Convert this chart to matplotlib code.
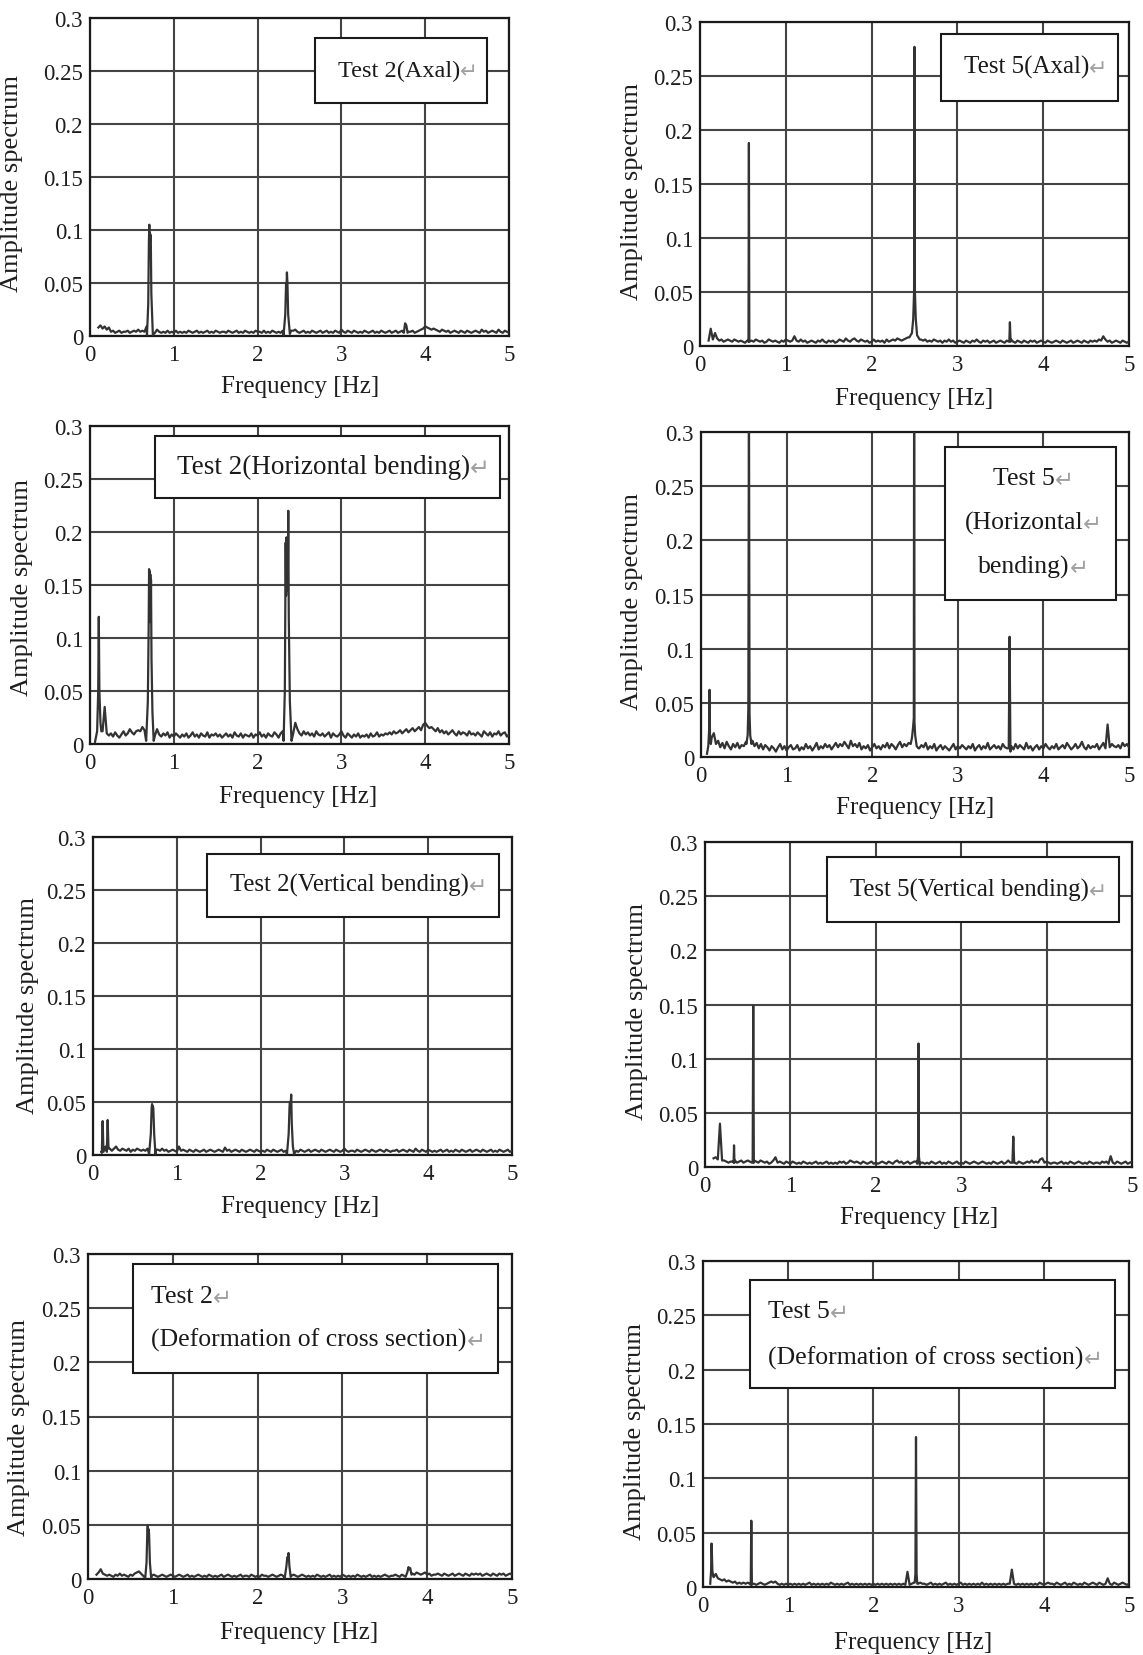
import numpy as np
import matplotlib
matplotlib.use("Agg")
import matplotlib.pyplot as plt
from matplotlib.patches import Rectangle
from matplotlib.text import Annotation

plt.rcParams['font.family'] = ['Liberation Serif', 'DejaVu Sans']

W, H = 1143, 1656

# Frequency bins of the noise floor: 0.1 Hz upward in 0.025 Hz steps (20 bins per row)
freq_start = 0.1
freq_step = 0.025

x_ticks = [0, 1, 2, 3, 4, 5]
y_ticks = [0, 0.05, 0.1, 0.15, 0.2, 0.25, 0.3]
y_tick_labels = ["0", "0.05", "0.1", "0.15", "0.2", "0.25", "0.3"]

# ---------------------------------------------------------------- Test 2, axal
t2_axal_floor = [
    8, 10, 7, 9, 6, 8, 4, 5, 3, 4, 5, 3, 4, 4, 5, 3, 4, 5, 4, 6,
    4, 5, 4, 9, 9, 9, 9, 3, 6, 4, 3, 4, 3, 5, 3, 4, 3, 5, 3, 4,
    3, 4, 3, 5, 4, 3, 4, 5, 3, 4, 3, 4, 5, 3, 4, 3, 5, 4, 3, 4,
    4, 3, 5, 4, 3, 4, 5, 3, 4, 3, 5, 4, 3, 4, 3, 5, 4, 4, 3, 5,
    3, 4, 3, 5, 4, 3, 4, 3, 5, 4, 5, 5, 5, 5, 6, 4, 3, 4, 5, 3,
    4, 3, 5, 4, 3, 4, 5, 3, 4, 5, 3, 4, 3, 5, 4, 3, 6, 4, 3, 5,
    4, 3, 5, 4, 3, 4, 3, 5, 4, 3, 4, 5, 3, 4, 3, 5, 4, 3, 4, 5,
    3, 4, 5, 3, 4, 5, 3, 5, 4, 4, 5, 3, 4, 5, 6, 7, 9, 8, 7, 6,
    7, 6, 5, 4, 6, 5, 4, 5, 3, 4, 5, 4, 3, 5, 4, 3, 5, 4, 3, 4,
    5, 4, 3, 6, 4, 5, 3, 4, 5, 4, 3, 6, 4, 3, 5, 4, 3, 4, 5, 4,
]
t2_axal_peaks = [
    [(0.68, 0.001), (0.695, 0.03), (0.703, 0.09), (0.708, 0.105), (0.712, 0.08),
     (0.716, 0.097), (0.72, 0.09), (0.725, 0.095), (0.732, 0.04), (0.75, 0.001)],
    [(2.31, 0.001), (2.33, 0.02), (2.34, 0.05), (2.345, 0.045), (2.35, 0.06),
     (2.356, 0.05), (2.365, 0.02), (2.385, 0.002)],
    [(3.745, 0.003), (3.76, 0.012), (3.775, 0.01), (3.79, 0.003)],
]

# ---------------------------------------------------------------- Test 5, axal
t5_axal_floor = [
    5, 16, 6, 12, 7, 5, 6, 4, 5, 6, 5, 4, 6, 5, 4, 5, 4, 3, 5, 4,
    5, 4, 6, 5, 4, 5, 3, 4, 6, 5, 4, 5, 4, 3, 5, 4, 6, 5, 4, 5,
    9, 5, 4, 6, 4, 5, 3, 4, 5, 4, 3, 5, 4, 6, 4, 3, 5, 4, 5, 3,
    4, 6, 5, 4, 7, 5, 4, 6, 7, 5, 4, 6, 5, 4, 5, 3, 4, 6, 4, 5,
    4, 5, 3, 6, 4, 5, 6, 5, 7, 6, 5, 6, 7, 8, 9, 9, 9, 9, 9, 6,
    5, 6, 4, 5, 4, 6, 5, 4, 5, 3, 5, 4, 6, 4, 5, 3, 4, 5, 4, 3,
    5, 4, 3, 5, 4, 6, 4, 3, 5, 4, 5, 3, 4, 5, 3, 4, 5, 4, 3, 5,
    4, 6, 4, 3, 5, 4, 3, 5, 4, 3, 5, 4, 5, 3, 4, 5, 4, 3, 5, 4,
    3, 4, 5, 4, 3, 5, 4, 3, 4, 5, 3, 4, 5, 4, 3, 5, 4, 3, 5, 4,
    5, 4, 6, 5, 9, 6, 4, 5, 3, 4, 5, 4, 3, 5, 4, 3, 4, 5, 4, 3,
]
t5_axal_peaks = [
    [(0.565, 0.004), (0.57, 0.188), (0.575, 0.004)],
    [(2.44, 0.008), (2.47, 0.012), (2.485, 0.025), (2.495, 0.05), (2.5, 0.277),
     (2.505, 0.05), (2.515, 0.025), (2.53, 0.01), (2.56, 0.006)],
    [(3.605, 0.004), (3.612, 0.022), (3.62, 0.004)],
]

# ---------------------------------------------------------------- Test 2, horizontal bending
t2_horiz_floor = [
    10, 14, 12, 35, 10, 8, 10, 7, 11, 8, 6, 9, 12, 8, 10, 14, 11, 9, 12, 13,
    12, 16, 13, 9, 9, 9, 9, 8, 14, 9, 7, 10, 8, 11, 6, 9, 7, 10, 8, 6,
    9, 7, 10, 6, 8, 11, 7, 9, 6, 10, 8, 7, 11, 6, 9, 8, 10, 7, 9, 6,
    8, 10, 7, 9, 6, 11, 8, 7, 10, 6, 9, 8, 7, 10, 6, 9, 8, 11, 7, 9,
    6, 10, 8, 7, 11, 9, 6, 10, 12, 9, 9, 9, 9, 10, 20, 14, 10, 8, 12, 9,
    11, 8, 10, 7, 12, 9, 8, 10, 7, 9, 11, 6, 10, 8, 7, 9, 12, 8, 6, 10,
    8, 6, 9, 7, 10, 6, 8, 7, 9, 6, 10, 7, 8, 11, 7, 9, 8, 10, 9, 11,
    9, 12, 10, 11, 13, 10, 12, 14, 11, 13, 15, 12, 14, 16, 13, 18, 20, 17, 15, 16,
    14, 12, 15, 11, 13, 10, 12, 9, 11, 13, 10, 8, 12, 9, 11, 10, 8, 12, 9, 10,
    8, 11, 9, 7, 12, 10, 8, 11, 7, 10, 9, 12, 8, 10, 11, 7, 9, 12, 8, 10,
]
t2_horiz_peaks = [
    [(0.06, 0.002), (0.085, 0.012), (0.098, 0.05), (0.105, 0.12), (0.112, 0.05),
     (0.125, 0.02), (0.135, 0.012)],
    [(0.67, 0.003), (0.69, 0.04), (0.70, 0.11), (0.705, 0.165), (0.709, 0.12),
     (0.712, 0.163), (0.716, 0.115), (0.72, 0.16), (0.724, 0.12), (0.728, 0.155),
     (0.734, 0.08), (0.745, 0.03), (0.76, 0.003)],
    [(2.31, 0.003), (2.325, 0.05), (2.335, 0.19), (2.34, 0.14), (2.345, 0.195),
     (2.35, 0.145), (2.355, 0.19), (2.36, 0.15), (2.366, 0.22), (2.372, 0.12),
     (2.385, 0.04), (2.405, 0.003)],
]

# ---------------------------------------------------------------- Test 5, horizontal bending
t5_horiz_floor = [
    12, 18, 22, 12, 15, 9, 13, 8, 14, 10, 7, 12, 9, 13, 8, 11, 10, 14, 15, 15,
    15, 10, 13, 8, 12, 7, 11, 9, 6, 10, 8, 5, 9, 12, 7, 10, 6, 9, 11, 7,
    8, 11, 6, 9, 7, 12, 8, 10, 6, 9, 13, 7, 10, 8, 12, 9, 11, 7, 10, 13,
    9, 12, 10, 14, 11, 8, 15, 10, 12, 9, 13, 7, 10, 8, 11, 6, 9, 12, 8, 10,
    7, 11, 9, 13, 8, 12, 10, 7, 11, 14, 9, 12, 10, 13, 15, 12, 12, 12, 8, 11,
    9, 13, 7, 10, 8, 12, 6, 9, 11, 7, 10, 8, 6, 9, 12, 7, 10, 8, 11, 9,
    7, 10, 8, 12, 6, 9, 11, 7, 10, 8, 13, 7, 9, 11, 8, 10, 7, 12, 9, 8,
    8, 10, 7, 12, 8, 11, 9, 7, 13, 8, 10, 6, 9, 11, 7, 10, 8, 12, 9, 7,
    10, 8, 12, 7, 9, 11, 8, 13, 10, 7, 9, 12, 8, 10, 14, 9, 7, 11, 8, 10,
    9, 12, 7, 10, 13, 8, 30, 9, 12, 10, 9, 11, 8, 13, 10, 12, 9, 11, 10, 8,
]
t5_horiz_peaks = [
    [(0.07, 0.003), (0.085, 0.01), (0.095, 0.025), (0.1, 0.062), (0.105, 0.02),
     (0.115, 0.012)],
    [(0.53, 0.012), (0.545, 0.02), (0.553, 0.045), (0.56, 0.35), (0.567, 0.04),
     (0.575, 0.02), (0.59, 0.012)],
    [(2.45, 0.012), (2.465, 0.018), (2.478, 0.028), (2.486, 0.036), (2.49, 0.35),
     (2.494, 0.032), (2.502, 0.02), (2.52, 0.01), (2.54, 0.008)],
    [(3.595, 0.008), (3.605, 0.111), (3.615, 0.005)],
]

# ---------------------------------------------------------------- Test 2, vertical bending
t2_vert_floor = [
    3, 2, 8, 5, 6, 4, 6, 8, 5, 4, 6, 5, 4, 6, 3, 5, 4, 6, 5, 4,
    5, 4, 6, 4, 4, 4, 5, 5, 4, 6, 4, 5, 3, 4, 5, 4, 3, 8, 4, 5,
    4, 3, 5, 4, 3, 5, 4, 3, 4, 5, 3, 4, 5, 4, 3, 4, 5, 4, 3, 7,
    4, 5, 3, 4, 5, 4, 3, 5, 4, 3, 4, 5, 4, 3, 5, 4, 3, 4, 3, 5,
    4, 3, 5, 4, 3, 4, 5, 3, 4, 4, 4, 4, 4, 4, 3, 5, 4, 3, 4, 5,
    3, 4, 5, 4, 3, 5, 4, 3, 4, 5, 4, 3, 5, 4, 3, 4, 6, 4, 3, 4,
    4, 3, 5, 4, 3, 4, 5, 4, 3, 5, 4, 3, 4, 5, 4, 3, 5, 4, 3, 4,
    4, 5, 3, 4, 5, 4, 3, 5, 4, 3, 6, 4, 3, 5, 4, 3, 5, 4, 3, 4,
    3, 4, 5, 3, 4, 5, 3, 4, 3, 5, 4, 3, 5, 4, 3, 4, 5, 3, 4, 5,
    4, 3, 5, 4, 3, 4, 5, 3, 4, 3, 5, 4, 3, 4, 5, 3, 4, 3, 5, 4,
]
t2_vert_peaks = [
    [(0.105, 0.002), (0.115, 0.032), (0.125, 0.003)],
    [(0.165, 0.003), (0.175, 0.033), (0.185, 0.006)],
    [(0.67, 0.001), (0.69, 0.02), (0.70, 0.045), (0.705, 0.048), (0.71, 0.04),
     (0.715, 0.046), (0.72, 0.044), (0.73, 0.02), (0.745, 0.001)],
    [(2.315, 0.001), (2.335, 0.02), (2.345, 0.045), (2.35, 0.05), (2.355, 0.042),
     (2.36, 0.049), (2.365, 0.057), (2.372, 0.03), (2.385, 0.008), (2.4, 0.001)],
]

# ---------------------------------------------------------------- Test 5, vertical bending
t5_vert_floor = [
    8, 9, 7, 40, 6, 6, 5, 4, 5, 5, 6, 4, 5, 6, 4, 5, 6, 5, 4, 6,
    5, 4, 6, 5, 4, 5, 3, 4, 6, 9, 4, 5, 4, 3, 5, 4, 3, 5, 4, 3,
    4, 3, 5, 4, 3, 4, 3, 4, 5, 3, 4, 3, 4, 5, 3, 4, 3, 4, 3, 5,
    4, 5, 3, 4, 6, 5, 4, 5, 4, 3, 5, 4, 3, 4, 5, 3, 4, 3, 4, 5,
    4, 3, 5, 4, 3, 5, 6, 4, 5, 3, 4, 5, 3, 4, 5, 5, 5, 4, 4, 3,
    4, 3, 5, 4, 3, 4, 5, 3, 4, 3, 5, 4, 3, 4, 5, 3, 4, 3, 5, 4,
    3, 4, 5, 4, 3, 4, 5, 4, 3, 4, 3, 5, 4, 3, 4, 5, 3, 4, 6, 4,
    4, 4, 3, 5, 4, 3, 4, 5, 4, 6, 4, 5, 4, 7, 8, 4, 5, 4, 3, 4,
    4, 3, 4, 5, 3, 4, 3, 5, 4, 3, 4, 5, 4, 3, 4, 3, 5, 4, 3, 4,
    4, 3, 5, 4, 5, 3, 10, 4, 3, 5, 4, 3, 4, 5, 3, 4, 5, 4, 3, 4,
]
t5_vert_peaks = [
    [(0.335, 0.004), (0.34, 0.02), (0.345, 0.004)],
    [(0.558, 0.004), (0.565, 0.149), (0.572, 0.004)],
    [(2.485, 0.003), (2.495, 0.01), (2.5, 0.114), (2.505, 0.01), (2.515, 0.002)],
    [(3.6, 0.004), (3.61, 0.028), (3.62, 0.004)],
]

# ---------------------------------------------------------------- Test 2, deformation of cross section
t2_deform_floor = [
    4, 6, 9, 5, 4, 3, 4, 3, 2, 4, 3, 5, 3, 4, 3, 2, 4, 3, 5, 6,
    7, 5, 3, 3, 3, 3, 3, 4, 3, 2, 3, 4, 3, 2, 3, 4, 3, 2, 3, 4,
    3, 2, 3, 4, 2, 3, 2, 3, 4, 3, 2, 3, 2, 4, 3, 2, 3, 2, 3, 4,
    2, 3, 4, 3, 2, 3, 2, 3, 4, 2, 3, 3, 2, 4, 3, 2, 3, 2, 4, 3,
    3, 2, 3, 4, 3, 2, 3, 4, 3, 3, 3, 3, 3, 4, 3, 2, 3, 4, 3, 2,
    3, 2, 3, 2, 4, 3, 2, 3, 2, 3, 4, 2, 3, 2, 3, 2, 4, 3, 2, 3,
    2, 3, 2, 4, 3, 2, 3, 2, 3, 4, 2, 3, 2, 3, 2, 3, 4, 3, 2, 3,
    3, 4, 3, 2, 4, 3, 3, 3, 3, 5, 4, 6, 5, 4, 5, 6, 4, 5, 3, 4,
    4, 5, 4, 3, 5, 4, 3, 4, 5, 3, 4, 5, 4, 3, 5, 4, 3, 5, 4, 5,
    4, 5, 3, 4, 5, 4, 3, 5, 4, 3, 5, 4, 5, 3, 4, 5, 4, 3, 5, 4,
]
t2_deform_peaks = [
    [(0.675, 0.001), (0.69, 0.015), (0.70, 0.045), (0.705, 0.049), (0.71, 0.04),
     (0.715, 0.046), (0.72, 0.042), (0.73, 0.015), (0.745, 0.001)],
    [(2.32, 0.001), (2.34, 0.012), (2.35, 0.02), (2.355, 0.017), (2.365, 0.024),
     (2.375, 0.012), (2.39, 0.002)],
    [(3.745, 0.002), (3.765, 0.006), (3.78, 0.011), (3.79, 0.009), (3.8, 0.01),
     (3.815, 0.004)],
]

# ---------------------------------------------------------------- Test 5, deformation of cross section
t5_deform_floor = [
    10, 9, 12, 8, 7, 6, 7, 5, 6, 5, 4, 5, 3, 4, 3, 4, 3, 4, 3, 3,
    3, 2, 3, 4, 3, 2, 3, 4, 5, 4, 5, 3, 2, 3, 2, 3, 2, 3, 2, 3,
    2, 3, 2, 3, 2, 3, 4, 2, 3, 2, 3, 2, 3, 2, 3, 2, 4, 3, 2, 3,
    2, 3, 2, 3, 4, 2, 3, 2, 3, 2, 3, 2, 3, 2, 3, 2, 3, 2, 3, 2,
    3, 2, 3, 2, 3, 2, 3, 2, 3, 2, 3, 2, 14, 2, 3, 4, 3, 3, 4, 3,
    3, 2, 3, 4, 2, 3, 2, 3, 2, 3, 4, 2, 3, 2, 3, 2, 3, 4, 2, 3,
    2, 3, 2, 3, 2, 3, 2, 4, 2, 3, 2, 3, 2, 3, 2, 3, 2, 3, 2, 3,
    3, 16, 3, 2, 3, 2, 3, 2, 3, 2, 3, 2, 3, 2, 4, 3, 2, 3, 4, 3,
    3, 2, 4, 3, 2, 3, 4, 2, 3, 2, 4, 3, 2, 3, 2, 4, 3, 2, 3, 4,
    3, 2, 4, 3, 2, 3, 8, 3, 2, 4, 3, 2, 3, 4, 3, 2, 3, 4, 2, 3,
]
t5_deform_peaks = [
    [(0.085, 0.003), (0.095, 0.015), (0.1, 0.04), (0.105, 0.03), (0.11, 0.015),
     (0.12, 0.01)],
    [(0.56, 0.002), (0.567, 0.061), (0.574, 0.002)],
    [(2.485, 0.004), (2.493, 0.012), (2.5, 0.138), (2.507, 0.012), (2.515, 0.003)],
]

# Panel labels (one list entry per line of the label box)
label_t2_axal = ["Test 2(Axal)"]
label_t5_axal = ["Test 5(Axal)"]
label_t2_horiz = ["Test 2(Horizontal bending)"]
label_t5_horiz = ["Test 5", "(Horizontal", "bending)"]
label_t2_vert = ["Test 2(Vertical bending)"]
label_t5_vert = ["Test 5(Vertical bending)"]
label_t2_deform = ["Test 2", "(Deformation of cross section)"]
label_t5_deform = ["Test 5", "(Deformation of cross section)"]

x_label = "Frequency [Hz]"
y_label = "Amplitude spectrum"
line_mark = "\u21b5"


def spectrum(floor, peaks):
    """Merge the binned noise floor with the resolved peak shapes."""
    f = freq_start + freq_step * np.arange(len(floor))
    a = np.asarray(floor, dtype=float) * 1e-3
    keep = np.ones(len(f), dtype=bool)
    pf, pa = [], []
    for grp in peaks:
        gf = [p[0] for p in grp]
        ga = [p[1] for p in grp]
        keep &= ~((f >= min(gf) - 1e-9) & (f <= max(gf) + 1e-9))
        pf += gf
        pa += ga
    x = np.concatenate([f[keep], pf])
    y = np.concatenate([a[keep], pa])
    order = np.argsort(x, kind="stable")
    return x[order], y[order]


# Layout in pixels: axes box (left, top, right, bottom), y-label centre,
# x-label centre, label box (left, top, right, bottom), text anchor, font size
panels = [
    dict(floor=t2_axal_floor, peaks=t2_axal_peaks, label=label_t2_axal,
         axes=(90, 19, 509, 337), ylab=(12, 184), xlab=(300, 387),
         box=(315, 39, 487, 104), text=dict(ha="left", x=338, ys=[71]), fs=17.5),
    dict(floor=t5_axal_floor, peaks=t5_axal_peaks, label=label_t5_axal,
         axes=(700, 23, 1129, 347), ylab=(632, 191), xlab=(914, 399),
         box=(941, 35, 1118, 102), text=dict(ha="left", x=964, ys=[67]), fs=18),
    dict(floor=t2_horiz_floor, peaks=t2_horiz_peaks, label=label_t2_horiz,
         axes=(90, 427, 509, 745), ylab=(22, 588), xlab=(298, 797),
         box=(155, 437, 500, 499), text=dict(ha="left", x=177, ys=[467]), fs=19.5),
    dict(floor=t5_horiz_floor, peaks=t5_horiz_peaks, label=label_t5_horiz,
         axes=(701, 433, 1129, 758), ylab=(632, 602), xlab=(915, 808),
         box=(945, 448, 1116, 601), text=dict(ha="center", x=1024, ys=[479, 523, 567]), fs=18.5),
    dict(floor=t2_vert_floor, peaks=t2_vert_peaks, label=label_t2_vert,
         axes=(93, 838, 512, 1156), ylab=(28, 1006), xlab=(300, 1207),
         box=(207, 855, 499, 918), text=dict(ha="left", x=230, ys=[885]), fs=17.8),
    dict(floor=t5_vert_floor, peaks=t5_vert_peaks, label=label_t5_vert,
         axes=(705, 843, 1132, 1168), ylab=(637, 1012), xlab=(919, 1218),
         box=(827, 858, 1119, 923), text=dict(ha="left", x=850, ys=[890]), fs=17.8),
    dict(floor=t2_deform_floor, peaks=t2_deform_peaks, label=label_t2_deform,
         axes=(88, 1255, 512, 1580), ylab=(19, 1428), xlab=(299, 1633),
         box=(133, 1265, 498, 1374), text=dict(ha="left", x=151, ys=[1297, 1340]), fs=18.5),
    dict(floor=t5_deform_floor, peaks=t5_deform_peaks, label=label_t5_deform,
         axes=(703, 1262, 1129, 1588), ylab=(635, 1432), xlab=(913, 1643),
         box=(750, 1281, 1115, 1389), text=dict(ha="left", x=768, ys=[1312, 1358]), fs=18.5),
]


def fx(px):
    return px / W


def fy(py):
    return 1 - py / H


fig = plt.figure(figsize=(W / 100, H / 100), dpi=100)
fig.patch.set_facecolor("white")

for p in panels:
    l, t, r, b = p["axes"]
    ax = fig.add_axes([fx(l), fy(b), (r - l) / W, (b - t) / H])
    x, y = spectrum(p["floor"], p["peaks"])
    ax.plot(x, y, color="#333333", lw=1.6, zorder=3)
    ax.set_xlim(0, 5)
    ax.set_ylim(0, 0.3)
    ax.set_xticks(x_ticks)
    ax.set_xticklabels([str(v) for v in x_ticks])
    ax.set_yticks(y_ticks)
    ax.set_yticklabels(y_tick_labels)
    ax.grid(True, color="#444444", lw=1.5)
    ax.tick_params(axis="both", length=0, labelsize=16.5, colors="#1e1e1e")
    ax.tick_params(axis="x", pad=6)
    ax.tick_params(axis="y", pad=5)
    for s in ax.spines.values():
        s.set_color("#1a1a1a")
        s.set_linewidth(1.6)

    fig.text(fx(p["ylab"][0]), fy(p["ylab"][1]), y_label, rotation=90,
             ha="center", va="center", fontsize=19, color="#1e1e1e")
    fig.text(fx(p["xlab"][0]), fy(p["xlab"][1]), x_label,
             ha="center", va="center", fontsize=18, color="#1e1e1e")

    bl, bt, br, bb = p["box"]
    fig.patches.append(Rectangle((fx(bl), fy(bb)), (br - bl) / W, (bb - bt) / H,
                                 transform=fig.transFigure, facecolor="white",
                                 edgecolor="#1a1a1a", lw=1.5, zorder=5))
    tx = p["text"]
    for line, ly in zip(p["label"], tx["ys"]):
        txt = fig.text(fx(tx["x"]), fy(ly), line, ha=tx["ha"], va="center",
                       fontsize=p["fs"], color="#1a1a1a", zorder=6)
        mark = Annotation(line_mark, xy=(1, 0.42), xycoords=txt,
                          xytext=(0, 0), textcoords="offset points",
                          ha="left", va="center", fontsize=p["fs"] * 0.88,
                          color="#a0a0a0", family=["DejaVu Sans"],
                          annotation_clip=False)
        mark.set_zorder(7)
        fig.add_artist(mark)

fig.savefig("out.png", dpi=100, facecolor="white")
